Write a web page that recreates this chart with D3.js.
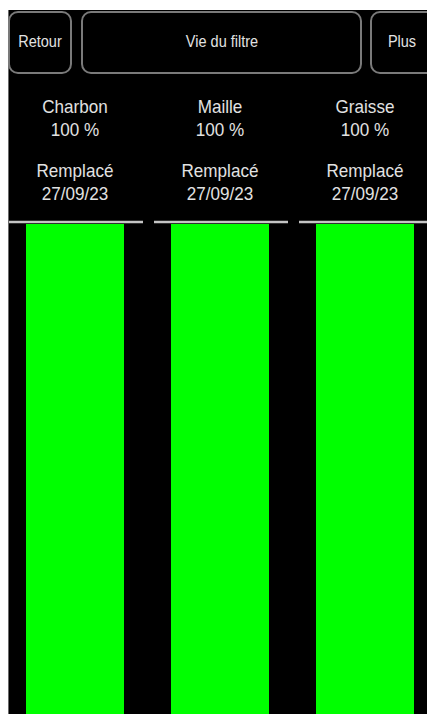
<!DOCTYPE html>
<head>
  <meta charset="utf-8">
  <script src="https://d3js.org/d3.v7.min.js"></script>
  <style>
    body { margin: 0; background: #fff; }
    svg { display: block; }
    text { font-family: "Liberation Sans", Arial, sans-serif; fill: #e2e2e2; }
  </style>
</head>
<body>
  <svg width="427" height="714"></svg>
  <script>
    var filters = ["Charbon", "Maille", "Graisse"];
    var percents = [100, 100, 100];
    var replaced = ["27/09/23", "27/09/23", "27/09/23"];
    var buttons = ["Retour", "Vie du filtre", "Plus"];

    var svg = d3.select("svg");
    var W = 427, H = 714;

    // black panel
    svg.append("rect").attr("x", 8).attr("y", 10).attr("width", W - 8).attr("height", H - 10).attr("fill", "#000");
    svg.append("line").attr("x1", 8.5).attr("x2", 8.5).attr("y1", 10).attr("y2", H)
      .attr("stroke", "#6a6a6a").attr("stroke-width", 1);

    // top buttons
    var btnX = d3.scaleOrdinal().domain(buttons).range([[9, 71], [82, 361], [371, 440]]);
    var btnC = [40, 222, 402];
    var btn = svg.append("g").selectAll("g").data(buttons).join("g");
    btn.append("rect")
      .attr("x", function (d) { return btnX(d)[0]; })
      .attr("y", 12)
      .attr("width", function (d) { return btnX(d)[1] - btnX(d)[0]; })
      .attr("height", 61)
      .attr("rx", 9)
      .attr("fill", "#000")
      .attr("stroke", "#7a7a7a")
      .attr("stroke-width", 2);
    btn.append("text")
      .attr("transform", function (d, i) { return "translate(" + btnC[i] + ",47) scale(0.88,1.05)"; })
      .attr("text-anchor", "middle")
      .attr("font-size", 16.5)
      .text(function (d) { return d; });

    // columns
    var x = d3.scaleBand().domain(filters).range([8, 443]);
    var y = d3.scaleLinear().domain([0, 100]).range([H, 224]);
    var barW = 98;

    var col = svg.append("g").selectAll("g").data(filters).join("g")
      .attr("transform", function (d) { return "translate(" + x(d) + ",0)"; });

    col.append("rect")
      .attr("x", 18)
      .attr("y", function (d, i) { return y(percents[i]); })
      .attr("width", barW)
      .attr("height", function (d, i) { return y(0) - y(percents[i]); })
      .attr("fill", "#00ff00");

    col.append("line")
      .attr("x1", 1)
      .attr("x2", 135)
      .attr("y1", 222).attr("y2", 222)
      .attr("stroke", "#c4c4c4")
      .attr("stroke-width", 2.5);

    var lines = [
      function (d, i) { return d; },
      function (d, i) { return percents[i] + " %"; },
      function (d, i) { return "Remplacé"; },
      function (d, i) { return replaced[i]; }
    ];
    var baselines = [113, 136, 177, 200];
    lines.forEach(function (fn, k) {
      col.append("text")
        .attr("transform", "translate(" + (18 + barW / 2) + "," + baselines[k] + ") scale(0.95,1)")
        .attr("text-anchor", "middle")
        .attr("font-size", 18)
        .text(fn);
    });
  </script>
</body>
